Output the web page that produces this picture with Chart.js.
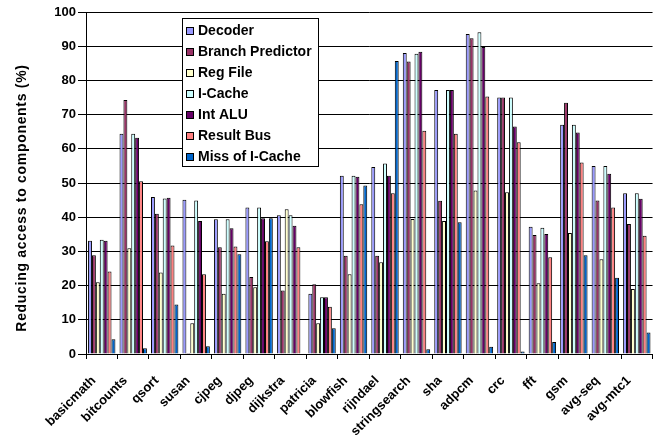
<!DOCTYPE html>
<html>
<head>
<meta charset="utf-8">
<script src="https://cdn.jsdelivr.net/npm/chart.js@4.4.1/dist/chart.umd.min.js"></script>
<style>
  html, body { margin: 0; padding: 0; background: #fff; }
  #wrap { width: 662px; height: 440px; }
</style>
</head>
<body>
<div id="wrap"><canvas id="c" width="662" height="440"></canvas></div>
<script>
// Benchmarks (x categories)
const benchmarks = ['basicmath', 'bitcounts', 'qsort', 'susan', 'cjpeg', 'djpeg', 'dijkstra', 'patricia',
  'blowfish', 'rijndael', 'stringsearch', 'sha', 'adpcm', 'crc', 'fft', 'gsm', 'avg-seq', 'avg-mtc1'];

// Reduction of accesses per component, in percent
const decoder         = [33.1, 64.4, 45.9, 45.1, 39.4, 42.8, 40.6, 17.6, 52.1, 54.7, 88.0, 77.2, 93.6, 75.0, 37.2, 67.0, 55.0, 47.0];
const branchPredictor = [28.9, 74.3, 41.0,  0.3, 31.2, 22.5, 18.6, 20.4, 28.7, 28.7, 85.5, 44.8, 92.3, 75.0, 34.8, 73.5, 44.9, 38.0];
const regFile         = [21.0, 30.9, 23.8,  9.0, 17.6, 19.5, 42.3,  9.0, 23.3, 26.8, 39.5, 38.9, 47.8, 47.3, 20.7, 35.4, 27.7, 19.0];
const iCache          = [33.4, 64.4, 45.5, 44.9, 39.4, 42.8, 40.6, 16.6, 52.1, 55.7, 87.8, 77.2, 94.1, 75.0, 36.9, 67.0, 55.0, 47.0];
const intAlu          = [33.1, 63.2, 45.7, 38.9, 36.8, 39.7, 37.5, 16.6, 51.8, 52.1, 88.4, 77.2, 89.8, 66.5, 35.1, 64.8, 52.7, 45.4];
const resultBus       = [24.1, 50.5, 31.7, 23.3, 31.4, 33.0, 31.2, 13.8, 43.8, 47.0, 65.3, 64.4, 75.3, 61.9, 28.3, 56.0, 42.8, 34.6];
const missICache      = [ 4.3,  1.7, 14.5,  2.3, 29.2, 39.7,  0.0,  7.5, 49.3, 85.7,  1.4, 38.5,  2.1,  0.7,  3.5, 28.9, 22.3,  6.3];

// Y axis ticks
const yTicks = [0, 10, 20, 30, 40, 50, 60, 70, 80, 90, 100];

const seriesNames  = ['Decoder', 'Branch Predictor', 'Reg File', 'I-Cache', 'Int ALU', 'Result Bus', 'Miss of I-Cache'];
const seriesValues = [decoder, branchPredictor, regFile, iCache, intAlu, resultBus, missICache];
const seriesColors = ['#9999FF', '#993366', '#FFFFCC', '#CCFFFF', '#660066', '#FF8080', '#0066CC'];

const yTitle = 'Reducing access to components (%)';

const FONT = '"Liberation Sans", Arial, sans-serif';

// Boxed legend drawn inside the plot area
const boxLegend = {
  id: 'boxLegend',
  afterDraw(chart) {
    const ctx = chart.ctx;
    const x = 182.5, y = 18.5, w = 136, h = 148;
    ctx.save();
    ctx.fillStyle = '#fff';
    ctx.fillRect(x, y, w, h);
    ctx.strokeStyle = '#000';
    ctx.lineWidth = 1;
    ctx.strokeRect(x, y, w, h);
    ctx.font = 'bold 14px ' + FONT;
    ctx.textBaseline = 'middle';
    ctx.textAlign = 'left';
    chart.data.datasets.forEach((ds, i) => {
      const cy = 31 + i * 21;
      ctx.fillStyle = ds.backgroundColor;
      ctx.fillRect(186.5, cy - 3.5, 7, 7);
      ctx.strokeStyle = '#000';
      ctx.strokeRect(186.5, cy - 3.5, 7, 7);
      ctx.fillStyle = '#000';
      ctx.fillText(ds.label, 198, cy + 0.5);
    });
    ctx.restore();
  }
};

// Rotated y-axis title, placed a little below the plot's vertical centre
const axisTitle = {
  id: 'axisTitle',
  afterDraw(chart) {
    const ctx = chart.ctx;
    ctx.save();
    ctx.translate(22, 198);
    ctx.rotate(-Math.PI / 2);
    ctx.font = 'bold 14px ' + FONT;
    if ('letterSpacing' in ctx) ctx.letterSpacing = '0.7px';
    ctx.fillStyle = '#000';
    ctx.textAlign = 'center';
    ctx.textBaseline = 'middle';
    ctx.fillText(yTitle, 0, 0);
    ctx.restore();
  }
};

new Chart(document.getElementById('c'), {
  type: 'bar',
  data: {
    labels: benchmarks,
    datasets: seriesNames.map((name, i) => ({
      label: name,
      data: seriesValues[i],
      backgroundColor: seriesColors[i],
      borderColor: '#000',
      borderWidth: 1,
      barPercentage: 1.0,
      categoryPercentage: 0.87
    }))
  },
  options: {
    responsive: false,
    animation: false,
    layout: { padding: { left: 0, right: 6, top: 12, bottom: 0 } },
    plugins: {
      legend: { display: false },
      tooltip: { enabled: false }
    },
    scales: {
      x: {
        grid: {
          offset: true,
          drawOnChartArea: false,
          drawTicks: true,
          tickLength: 5,
          color: '#000'
        },
        border: { color: '#000', width: 1 },
        ticks: {
          autoSkip: false,
          maxRotation: 45,
          minRotation: 45,
          color: '#000',
          font: { family: FONT, size: 13, weight: 'bold' },
          padding: 14,
          labelOffset: -8
        },
        afterFit(scale) { scale.height = 86; }
      },
      y: {
        min: 0,
        max: 100,
        afterBuildTicks(scale) { scale.ticks = yTicks.map(v => ({ value: v })); },
        grid: {
          color: '#000',
          tickLength: 8,
          drawTicks: true
        },
        border: { color: '#000', width: 1 },
        ticks: {
          color: '#000',
          font: { family: FONT, size: 13, weight: 'bold' },
          padding: 2
        },
        title: { display: false },
        afterFit(scale) { scale.width = 86; }
      }
    }
  },
  plugins: [boxLegend, axisTitle]
});
</script>
</body>
</html>
